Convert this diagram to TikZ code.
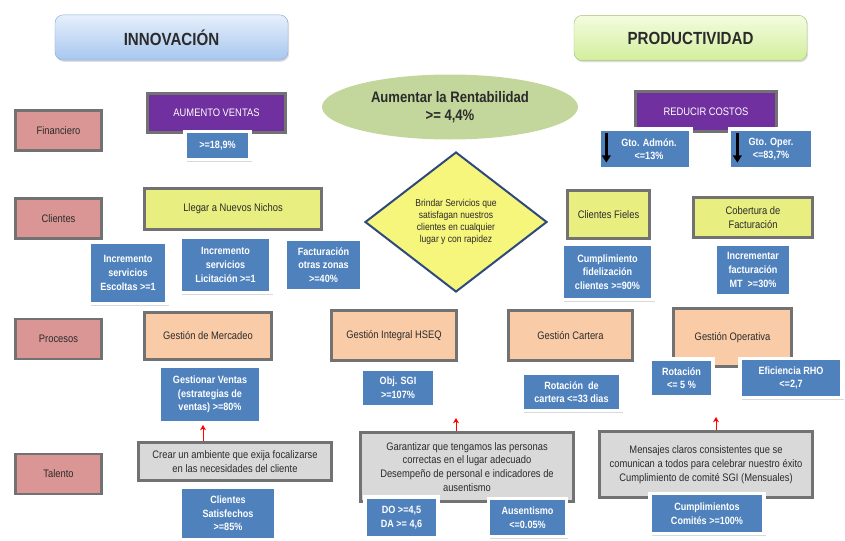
\documentclass[tikz,border=0pt]{standalone}
\usepackage{fontspec}
\setmainfont{Liberation Sans}[FakeStretch=0.86]
\usetikzlibrary{shapes.geometric,shadows,arrows.meta}

\definecolor{rowpink}{HTML}{D99694}
\definecolor{edgegray}{HTML}{727272}
\definecolor{objpurple}{HTML}{7030A0}
\definecolor{kpiblue}{HTML}{4F81BD}
\definecolor{nichoyellow}{HTML}{E8EE80}
\definecolor{diamyellow}{HTML}{F6F57C}
\definecolor{diamblue}{HTML}{2E4A7D}
\definecolor{procpeach}{HTML}{F9CBA6}
\definecolor{talgray}{HTML}{D9D9D9}
\definecolor{rentgreen}{HTML}{C3D69B}
\definecolor{txtdark}{HTML}{2B2B2B}
\definecolor{innovtop}{HTML}{E6F0FC}
\definecolor{innovbot}{HTML}{A7C6EE}
\definecolor{innovedge}{HTML}{8EAAD0}
\definecolor{prodtop}{HTML}{F4FCE0}
\definecolor{prodbot}{HTML}{D2EE9C}
\definecolor{prodedge}{HTML}{A6C07A}

\tikzset{
  basebox/.style={inner sep=1pt, align=center, text=txtdark, font=\fontsize{9.3}{11.8}\selectfont},
  edged/.style={basebox, draw=edgegray, line width=0.8mm},
  rowlab/.style={edged, fill=rowpink, minimum width=25.8mm, minimum height=12mm},
  objbox/.style={edged, fill=objpurple, text=white},
  nicho/.style={edged, fill=nichoyellow},
  proc/.style={edged, fill=procpeach},
  talbox/.style={edged, fill=talgray},
  kpi/.style={basebox, fill=kpiblue, draw=white, line width=1mm, text=white,
    font=\fontsize{9}{11.6}\selectfont\bfseries,
    drop shadow={shadow xshift=1.4pt, shadow yshift=-1.8pt, opacity=0.3}},
  headbox/.style={rounded corners=2.5mm, line width=0.4pt, text=txtdark,
    minimum width=69.9mm, minimum height=13.6mm,
    font=\fontsize{15}{18}\selectfont\bfseries,
    drop shadow={shadow xshift=1pt, shadow yshift=-1.5pt, opacity=0.25}},
  innovhead/.style={headbox, top color=innovtop, bottom color=innovbot, draw=innovedge},
  prodhead/.style={headbox, top color=prodtop, bottom color=prodbot, draw=prodedge},
  uparr/.style={red, line width=0.8pt, -{Stealth[length=1.6mm,width=1.8mm]}},
  downarr/.style={black, line width=0.7mm, -{Triangle[length=2.2mm,width=2.6mm]}},
}

\begin{document}
\begin{tikzpicture}[x=0.3mm,y=-0.3mm]
\useasboundingbox (0,0) rectangle (845,541);

% perspectivas
\node[innovhead] (innov) at (171.5,37.5) {INNOVACIÓN};
\node[prodhead] (prod) at (690.5,38) {PRODUCTIVIDAD};
\node[ellipse, fill=rentgreen, minimum width=76.8mm, minimum height=19.5mm, align=center, text=txtdark,
  font=\fontsize{13}{15.5}\selectfont\bfseries] (rent) at (450,107) {Aumentar la Rentabilidad\\>= 4,4\%};

\foreach \n/\y/\t in {fin/130.5/Financiero, cli/218.5/Clientes, pro/339/Procesos, tal/474/Talento}
  \node[rowlab] (\n) at (58.5,\y) {\t};

% financiero
\node[objbox, minimum width=41.4mm, minimum height=11.7mm] (aumento) at (216.5,113) {AUMENTO VENTAS};
\node[kpi, minimum width=19.5mm, minimum height=8.4mm] (ventas) at (217.5,145.5) {>=18,9\%};
\node[objbox, minimum width=42.3mm, minimum height=12mm] (reducir) at (706,111.5) {REDUCIR COSTOS};
\node[kpi, minimum width=27.6mm, minimum height=12mm] (admon) at (645,149) {\hspace*{2.4mm}Gto. Admón.\\\hspace*{2.4mm}<=13\%};
\node[kpi, minimum width=24.9mm, minimum height=12mm] (oper) at (771,149) {Gto. Oper.\\<=83,7\%};
\draw[downarr] ([shift={(2.7mm,-1.8mm)}]admon.north west) -- ([shift={(2.7mm,2.4mm)}]admon.south west);
\draw[downarr] ([shift={(2.85mm,-1.8mm)}]oper.north west) -- ([shift={(2.85mm,2.4mm)}]oper.south west);

% clientes
\node[nicho, minimum width=53.1mm, minimum height=12.3mm] (nichos) at (233,209) {Llegar a Nuevos Nichos};
\node[kpi, minimum width=23.4mm, minimum height=18.3mm] (escoltas) at (128,273) {Incremento\\servicios\\Escoltas >=1};
\node[kpi, minimum width=27.3mm, minimum height=16.5mm] (licit) at (225.5,265) {Incremento\\servicios\\Licitación >=1};
\node[kpi, minimum width=22.8mm, minimum height=15.6mm] (zonas) at (323.5,265) {Facturación\\otras zonas\\>=40\%};
\node[diamond, fill=diamyellow, draw=diamblue, line width=0.6mm, minimum width=54.6mm, minimum height=42mm,
  inner sep=0pt, align=center, text=txtdark, font=\fontsize{8.5}{10.2}\selectfont] (brindar) at (456,222)
  {Brindar Servicios que\\satisfagan nuestros\\clientes en cualquier\\lugar y con rapidez};
\node[nicho, minimum width=24.6mm, minimum height=14.4mm] (fieles) at (608.5,214.5) {Clientes Fieles};
\node[nicho, minimum width=35.7mm, minimum height=12mm] (cobert) at (753,217.5) {Cobertura de\\Facturación};
\node[kpi, minimum width=27.3mm, minimum height=16.5mm] (fideliz) at (607.5,272) {Cumplimiento\\fidelización\\clientes >=90\%};
\node[kpi, minimum width=22.5mm, minimum height=15.6mm] (factmt) at (753,270) {Incrementar\\facturación\\MT \ >=30\%};

% procesos
\node[proc, minimum width=38.1mm, minimum height=14.1mm] (mercadeo) at (208,336) {Gestión de Mercadeo};
\node[proc, minimum width=37.5mm, minimum height=15mm] (hseq) at (394,335.5) {Gestión Integral HSEQ};
\node[proc, minimum width=37.2mm, minimum height=15mm] (cartera) at (570.5,335.5) {Gestión Cartera};
\node[proc, minimum width=35.4mm, minimum height=17.4mm] (operativa) at (732.5,337.5) {Gestión Operativa};
\node[kpi, minimum width=30.6mm, minimum height=17.1mm] (gventas) at (210,394.5) {Gestionar Ventas\\(estrategias de\\ventas) >=80\%};
\node[kpi, minimum width=22.2mm, minimum height=11.4mm] (sgi) at (398,388) {Obj. SGI\\>=107\%};
\node[kpi, minimum width=29.7mm, minimum height=11.1mm] (rcartera) at (571.5,392) {Rotación \ de\\cartera <=33 dias};
\node[kpi, minimum width=18.9mm, minimum height=11.4mm] (rotacion) at (681.5,378) {Rotación\\<= 5 \%};
\node[kpi, minimum width=30.6mm, minimum height=11.7mm] (rho) at (791,378) {Eficiencia RHO\\<=2,7};

% talento
\node[talbox, minimum width=57.9mm, minimum height=11.4mm] (crear) at (235,461.5) {Crear un ambiente que exija focalizarse\\en las necesidades del cliente};
\node[talbox, minimum width=63.9mm, minimum height=20.7mm] (garant) at (467,467) {Garantizar que tengamos las personas\\correctas en el lugar adecuado\\Desempeño de personal e indicadores de\\ausentismo};
\node[talbox, minimum width=63.9mm, minimum height=19.8mm] (mensajes) at (706,464.5) {Mensajes claros consistentes que se\\comunican a todos para celebrar nuestro éxito\\Cumplimiento de comité SGI (Mensuales)};
\node[kpi, minimum width=28.8mm, minimum height=15.6mm] (satisf) at (228,513.5) {Clientes\\Satisfechos\\>=85\%};
\node[kpi, minimum width=21.9mm, minimum height=12.3mm] (dos) at (401.5,517.5) {DO >=4,5\\DA >= 4,6};
\node[kpi, minimum width=23.4mm, minimum height=11.4mm] (ausent) at (527.5,517.5) {Ausentismo\\<=0.05\%};
\node[kpi, minimum width=34.2mm, minimum height=12mm] (cumpl) at (707,513.5) {Cumplimientos\\Comités >=100\%};

\coordinate (a1) at (203,425);
\coordinate (a2) at (456,418);
\coordinate (a3) at (716,417);
\draw[uparr] (a1 |- crear.north) -- (a1);
\draw[uparr] (a2 |- garant.north) -- (a2);
\draw[uparr] (a3 |- mensajes.north) -- (a3);
\end{tikzpicture}
\end{document}
